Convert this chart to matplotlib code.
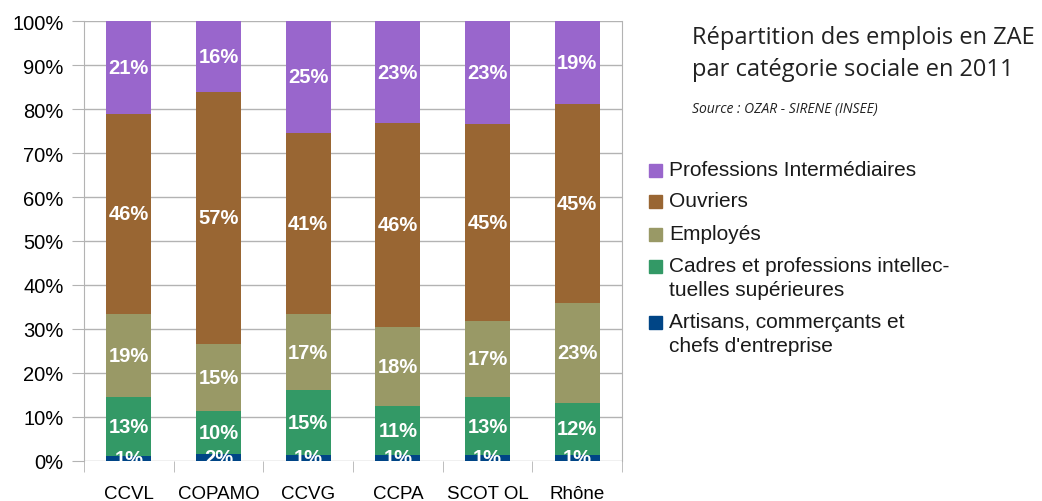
import numpy as np
import matplotlib.pyplot as plt
from matplotlib.patches import Rectangle
from matplotlib.ticker import FixedLocator

# data (percent of jobs per category)
zones = ['CCVL', 'COPAMO', 'CCVG', 'CCPA', 'SCOT OL', 'Rhône']
artisans = [1.1, 1.6, 1.4, 1.4, 1.4, 1.4]
cadres = [13.4, 9.8, 14.7, 11.2, 13.1, 11.8]
employes = [18.9, 15.2, 17.3, 17.9, 17.4, 22.7]
ouvriers = [45.5, 57.3, 41.2, 46.3, 44.7, 45.2]
prof_inter = [21.1, 16.1, 25.4, 23.2, 23.4, 18.9]

series = [artisans, cadres, employes, ouvriers, prof_inter]
colors = ['#004586', '#339966', '#999966', '#996633', '#9966cc']
legend_lines = [
    ['Artisans, commerçants et', "chefs d'entreprise"],
    ['Cadres et professions intellec-', 'tuelles supérieures'],
    ['Employés'],
    ['Ouvriers'],
    ['Professions Intermédiaires'],
]

plt.rcParams['font.family'] = ['Liberation Sans', 'DejaVu Sans']

W, H = 1042, 502
fig = plt.figure(figsize=(W / 100, H / 100), dpi=100)


def fx(px):
    return px / W


def fy(py):
    return 1 - py / H


ax = fig.add_axes([fx(84), fy(462), fx(622) - fx(84), fy(22) - fy(462)])

x = np.arange(len(zones))
bottom = np.zeros(len(zones))
for vals, c in zip(series, colors):
    bars = ax.bar(x, vals, 0.5, bottom=bottom, color=c, zorder=2)
    txts = ax.bar_label(bars, fmt='{:.0f}%', label_type='center',
                        color='white', fontweight='bold', fontsize=14.5)
    for t in txts:
        t.set_clip_on(True)
    bottom += np.array(vals)

grey = '#b3b3b3'
ax.set_xlim(-0.5, len(zones) - 0.5)
ax.set_ylim(0, 100)
ax.set_yticks(np.arange(0, 101, 10))
ax.set_yticklabels([f'{v}%' for v in range(0, 101, 10)], fontsize=14.5)
ax.yaxis.grid(True, color=grey, linewidth=1)
ax.set_axisbelow(True)
ax.tick_params(axis='y', length=8.6, color=grey, pad=6)

ax.set_xticks(x)
ax.set_xticklabels(zones, fontsize=13.5)
ax.xaxis.set_minor_locator(FixedLocator(np.arange(-0.5, len(zones), 1)))
ax.tick_params(axis='x', which='major', length=0, pad=17)
ax.tick_params(axis='x', which='minor', length=8, color=grey)

for s in ['top', 'bottom']:
    ax.spines[s].set_visible(False)
for s in ['left', 'right']:
    ax.spines[s].set_color(grey)

# title block
fig.text(fx(692), fy(38), 'Répartition des emplois en ZAE', fontsize=17,
         family='Open Sans', va='center', color='#222222')
fig.text(fx(692), fy(70), 'par catégorie sociale en 2011', fontsize=17,
         family='Open Sans', va='center', color='#222222')
fig.text(fx(692), fy(110), 'Source : OZAR - SIRENE (INSEE)', fontsize=10,
         family='Open Sans', style='italic', va='center', color='#222222')

# legend (top entry = last series)
ys = [323, 267, 235, 202, 171]
for lines, c, y0 in zip(legend_lines, colors, ys):
    fig.add_artist(Rectangle((fx(649), fy(y0 + 6.5)), fx(13), fy(0) - fy(13),
                             color=c, transform=fig.transFigure))
    for i, line in enumerate(lines):
        fig.text(fx(669), fy(y0 + 23 * i), line, fontsize=15, va='center',
                 color='#1a1a1a')

fig.savefig('out.png', dpi=100)
